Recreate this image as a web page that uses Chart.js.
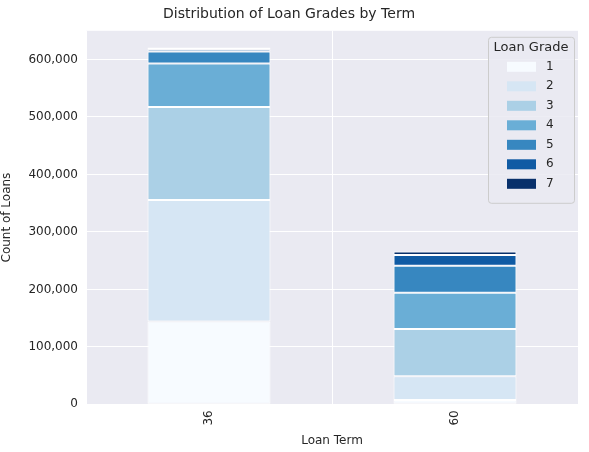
<!DOCTYPE html>
<html><head><script src="https://cdn.jsdelivr.net/npm/chart.js@4"></script>
<style>body{margin:0;background:#fff}#w{width:589px;height:452px}</style></head>
<body><div id="w"><canvas id="c"></canvas></div>
<script>
const categories=["36","60"];
const grades=["1","2","3","4","5","6","7"];
const g1=[144000,7500];
const g2=[211600,41500];
const g3=[162000,82000];
const g4=[75400,63000];
const g5=[21000,47000];
const g6=[4000,19000];
const g7=[3000,6000];
const yTicks=[0,100000,200000,300000,400000,500000,600000];
const colors=["#f7fbff","#d6e6f4","#abd0e6","#6aaed6","#3787c0","#105ba4","#08306b"];
const series=[g1,g2,g3,g4,g5,g6,g7];
const F="'DejaVu Sans', Arial, sans-serif";
const bg={id:'bg',beforeDraw(c){const a=c.chartArea,x=c.ctx;x.save();x.fillStyle='#eaeaf2';x.fillRect(a.left,a.top,a.right-a.left,a.bottom-a.top);x.restore();}};
const leg={id:'leg',afterDraw(c){const x=c.ctx,a=c.chartArea;const w=86,h=166,L=a.right-w-4,T=a.top+6;
x.save();x.fillStyle='rgba(234,234,242,0.85)';x.strokeStyle='#cccccc';x.lineWidth=1;
x.beginPath();x.roundRect(L+.5,T+.5,w,h,3);x.fill();x.stroke();
x.fillStyle='#262626';x.font='13px '+F;x.textAlign='center';x.textBaseline='middle';x.fillText('Loan Grade',L+w/2,T+11);
grades.forEach((g,i)=>{const y=T+30+i*19.5;x.fillStyle=colors[i];x.fillRect(L+19,y-5,29,10);x.fillStyle='#262626';x.textAlign='left';x.font='12px '+F;x.fillText(g,L+58,y);});
x.restore();}};
new Chart(document.getElementById('c'),{type:'bar',
data:{labels:categories,datasets:series.map((d,i)=>({label:grades[i],data:d,backgroundColor:colors[i],borderColor:'#ffffff',borderWidth:1,borderSkipped:false,categoryPercentage:1,barPercentage:0.5}))},
options:{responsive:true,maintainAspectRatio:false,animation:false,
layout:{padding:{left:0,right:11,top:0,bottom:0}},
plugins:{legend:{display:false},tooltip:{enabled:false},
title:{display:true,text:'Distribution of Loan Grades by Term',color:'#262626',font:{family:F,size:14,weight:'normal'},padding:{top:6,bottom:8}}},
scales:{
x:{stacked:true,grid:{color:'#ffffff',lineWidth:1,drawTicks:false},border:{display:false},
ticks:{color:'#262626',font:{family:F,size:12},maxRotation:90,minRotation:90,padding:6},
title:{display:true,text:'Loan Term',color:'#262626',font:{family:F,size:12},padding:{top:2,bottom:4}}},
y:{stacked:true,min:0,max:650000,afterFit(s){s.width=86;},afterBuildTicks(s){s.ticks=yTicks.map(v=>({value:v}));},
grid:{color:'#ffffff',lineWidth:1,drawTicks:false},border:{display:false},
ticks:{color:'#262626',font:{family:F,size:12},padding:8},
title:{display:true,text:'Count of Loans',color:'#262626',font:{family:F,size:12},padding:{top:0,bottom:4}}}}},
plugins:[bg,leg]});
</script></body></html>
